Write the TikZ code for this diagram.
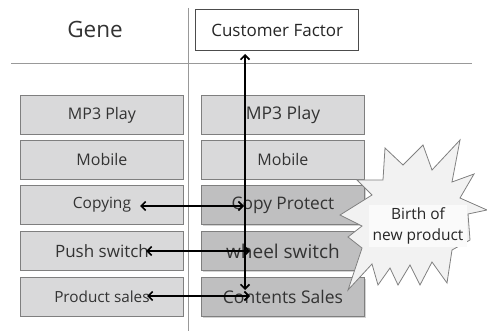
\documentclass[tikz,border=0pt]{standalone}
\usepackage{fontspec}
\setmainfont{Open Sans}
\usetikzlibrary{arrows.meta,shadows}
\definecolor{boxlight}{HTML}{D9D9DA}
\definecolor{boxdark}{HTML}{BFBFC0}
\definecolor{boxedge}{HTML}{7F7F7F}
\definecolor{burst}{HTML}{F2F2F2}
\newcommand{\fsz}[1]{\fontsize{#1}{#1}\selectfont}
\begin{document}
\begin{tikzpicture}[x=1pt,y=-1pt,
  lightbox/.style={draw=boxedge,line width=0.9pt,fill=boxlight,minimum width=163pt,minimum height=39pt,inner sep=0pt,anchor=north west,font=\fsz{16},text=black!80},
  darkbox/.style={lightbox,fill=boxdark,drop shadow={shadow xshift=1.5pt,shadow yshift=-1.5pt,opacity=0.35}},
  rule/.style={draw=black!40,line width=0.8pt},
  link/.style={line width=1.6pt,{Straight Barb[length=4.5pt,width=9pt]}-{Straight Barb[length=4.5pt,width=9pt]}}
]
\useasboundingbox (0,0) rectangle (487,331);
\draw[rule] (188,8) -- (188,331);
\draw[rule] (11,63) -- (472,63);
\node[font=\fsz{22.5},text=black!80] (gene) at (95,29) {Gene};
\node[draw=black!70,line width=1.4pt,fill=white,minimum width=163pt,minimum height=41pt,inner sep=0pt,anchor=north west,font=\fsz{17},text=black!85] (cf) at (195,9) {Customer Factor};
% left column
\node[lightbox] (l1) at (20,95) {MP3 Play};
\node[lightbox] (l2) at (20,140) {Mobile};
\node[lightbox,font=\fsz{15.5}] (l3) at (20,185) {Copying};
\node[lightbox,font=\fsz{17}] (l4) at (20,231) {Push switch};
\node[lightbox,font=\fsz{15.3}] (l5) at (20,277) {Product sales};
% right column
\node[lightbox,font=\fsz{17.5}] (r1) at (201,95) {MP3 Play};
\node[lightbox] (r2) at (201,140) {Mobile};
\node[darkbox,font=\fsz{17.3}] (r3) at (201,185) {Copy Protect};
\node[darkbox,font=\fsz{19}] (r4) at (201,231) {wheel switch};
\node[darkbox,font=\fsz{17.5}] (r5) at (201,277) {Contents Sales};
% starburst
\draw[draw=black!50,line width=0.8pt,fill=burst]
 (385,148) -- (403,165) -- (423,145) -- (432,170) -- (460,140) -- (452,182)
 -- (474,174) -- (460,198) -- (487,210) -- (468,214) -- (470,240) -- (452,250)
 -- (447,283) -- (432,262) -- (420,285) -- (410,265) -- (398,285) -- (390,268)
 -- (378,285) -- (372,264) -- (348,290) -- (362,248) -- (348,237) -- (362,226)
 -- (340,215) -- (372,195) -- (357,180) -- (383,180) -- cycle;
\node[fill=white!60!burst,align=center,inner xsep=4pt,inner ysep=3pt,font=\fontsize{15.5}{21}\selectfont,text=black!85] (birth) at (418,226) {Birth of\\new product};
% connectors
\coordinate (vt) at (245,54);
\coordinate (vb) at (245,290);
\coordinate (c1) at (140,206);
\coordinate (c2) at (244,206);
\coordinate (p1) at (146,251);
\coordinate (p2) at (250,251);
\coordinate (s1) at (147,296);
\coordinate (s2) at (250,296);
\draw[link] (vt) -- (vb);
\draw[link] (c1) -- (c2);
\draw[link] (p1) -- (p2);
\draw[link] (s1) -- (s2);
\end{tikzpicture}
\end{document}
